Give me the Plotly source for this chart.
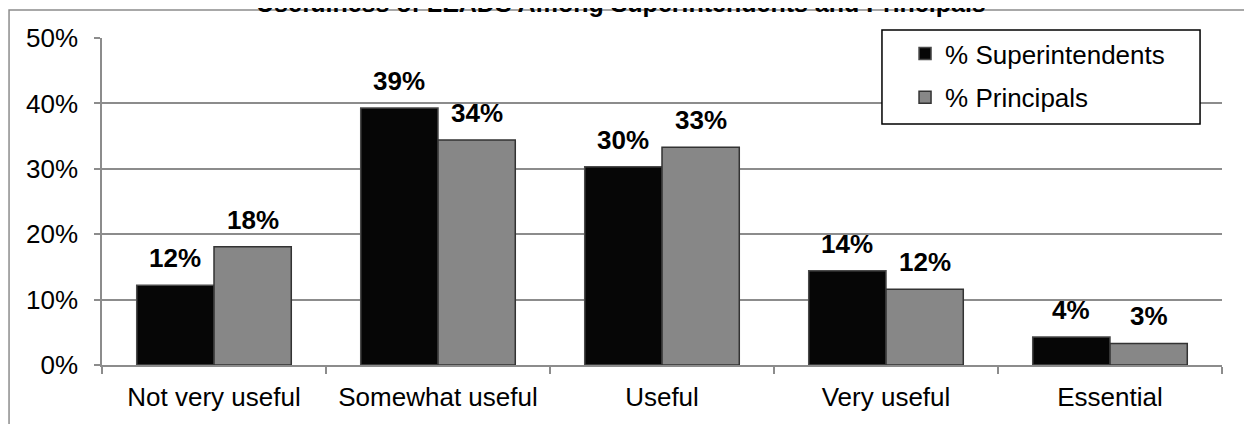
import plotly.graph_objects as go

categories = ["Not very useful", "Somewhat useful", "Useful", "Very useful", "Essential"]
superintendents = [12.2, 39.3, 30.3, 14.4, 4.3]
principals = [18.1, 34.4, 33.3, 11.6, 3.3]
y_ticks = [0, 10, 20, 30, 40, 50]
y_tick_labels = ["0%", "10%", "20%", "30%", "40%", "50%"]
title_text = "Usefulness of LEADS Among Superintendents and Principals"

FONT = "Liberation Sans, Arial, sans-serif"
BARGAP = 0.31
PLOT_W = 1120

fig = go.Figure()
fig.add_trace(go.Bar(
    name="% Superintendents", x=categories, y=superintendents, legendgroup="s",
    marker=dict(color="#060606", line=dict(color="#4a4a4a", width=1.5)),
))
fig.add_trace(go.Bar(
    name="% Principals", x=categories, y=principals, legendgroup="p",
    marker=dict(color="#878787", line=dict(color="#333333", width=1.5)),
))

# value labels above each bar
half = (1 - BARGAP) / 4 * PLOT_W / len(categories)
for series, sign in ((superintendents, -1), (principals, 1)):
    for cat, v in zip(categories, series):
        fig.add_annotation(x=cat, y=v, xref="x", yref="y", text="<b>%d%%</b>" % round(v),
                           showarrow=False, xanchor="center", yanchor="bottom",
                           xshift=sign * half, yshift=10,
                           font=dict(family=FONT, size=26, color="black"))

# title (partially cut off at the top edge, as in the reference)
fig.add_annotation(x=0.4634, y=1.108, xref="paper", yref="paper", showarrow=False,
                   text="<b>" + title_text + "</b>", xanchor="center", yanchor="middle",
                   font=dict(family=FONT, size=25, color="black"))

fig.update_layout(
    width=1252, height=424,
    margin=dict(l=94, r=38, t=30, b=67),
    paper_bgcolor="white", plot_bgcolor="white",
    barmode="group", bargap=BARGAP, bargroupgap=0.0,
    font=dict(family=FONT, size=26, color="black"),
    showlegend=True,
    legend=dict(x=0.717, y=1.0245, xanchor="left", yanchor="top",
                bgcolor="rgba(0,0,0,0)", borderwidth=0,
                font=dict(family=FONT, size=26, color="black"),
                itemwidth=30, tracegroupgap=7),
)
fig.update_yaxes(
    range=[0, 50], tickvals=y_ticks, ticktext=y_tick_labels,
    showgrid=True, gridcolor="#8c8c8c", gridwidth=1.5,
    showline=True, linecolor="#8c8c8c", linewidth=1.5,
    ticks="outside", ticklen=6, tickcolor="#8c8c8c", tickwidth=1.5,
    ticklabelstandoff=11,
    zeroline=False, tickfont=dict(family=FONT, size=26, color="black"),
)
fig.update_xaxes(
    showline=True, linecolor="#8c8c8c", linewidth=1.5,
    ticks="outside", ticklen=7, tickcolor="#8c8c8c", tickwidth=1.5,
    tickson="boundaries", showgrid=False, ticklabelstandoff=8,
    tickfont=dict(family=FONT, size=26, color="black"),
)
# outer chart frame
fig.add_shape(type="rect", xref="paper", yref="paper",
              x0=-0.083, x1=1.05, y0=-0.3, y1=1.0856,
              line=dict(color="#8c8c8c", width=1.5), fillcolor="rgba(0,0,0,0)", layer="below")
# legend box
fig.add_shape(type="rect", xref="paper", yref="paper",
              x0=0.6964, x1=0.9804, y0=0.737, y1=1.0245,
              line=dict(color="black", width=1.5), fillcolor="white", layer="above")

fig.write_html("out.html")
